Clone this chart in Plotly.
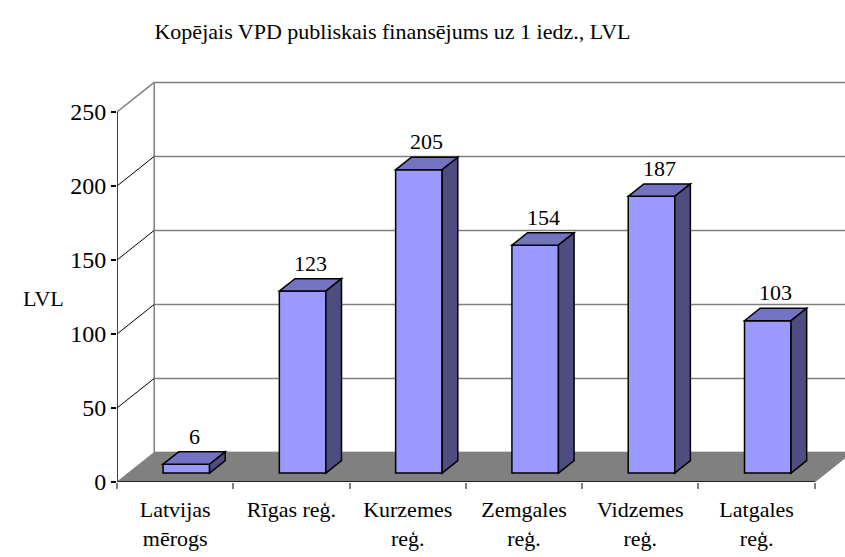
import plotly.graph_objects as go

categories = ["Latvijas<br>mērogs", "Rīgas reģ.", "Kurzemes<br>reģ.", "Zemgales<br>reģ.",
              "Vidzemes<br>reģ.", "Latgales<br>reģ."]
values = [6, 123, 205, 154, 187, 103]
y_ticks = [0, 50, 100, 150, 200, 250]
title_text = "Kopējais VPD publiskais finansējums uz 1 iedz., LVL"
y_title = "LVL"

# oblique-projection styling (axis units)
DX, DY = 0.32, 20.0
BAR_W = 0.40
F0, F1 = 0.30, 0.72
X_MAX = 6.26
Y_MAX = 275
FONT = "Liberation Serif, Times New Roman, serif"
FRONT, TOP, SIDE = "#9999FF", "#7373C4", "#4D4D80"
GRID = "#808080"

n = len(categories)
fig = go.Figure()
shapes = []


def poly(pts, fill, line_color="black", lw=1.5):
    path = "M " + " L ".join(f"{x},{y}" for x, y in pts) + " Z"
    return dict(type="path", path=path, xref="x", yref="y", fillcolor=fill,
                line=dict(color=line_color, width=lw), layer="above")


def seg(x0, y0, x1, y1, color, lw):
    return dict(type="line", x0=x0, y0=y0, x1=x1, y1=y1, xref="x", yref="y",
                line=dict(color=color, width=lw), layer="above")


top_tick = max(y_ticks)
# back wall gridlines
for t in y_ticks:
    shapes.append(seg(DX, t + DY, X_MAX + 1, t + DY, GRID, 1.5))
# back wall left edge
shapes.append(seg(DX, DY, DX, top_tick + DY, GRID, 1.5))
# diagonals on left wall
for t in y_ticks[1:]:
    col, lw = (GRID, 1.5) if t == top_tick else ("black", 1)
    shapes.append(seg(0, t, DX, t + DY, col, lw))
# floor
shapes.append(poly([(0, 0), (DX, DY), (n + DX, DY), (n, 0)], GRID, GRID, 1))
# front axis lines
shapes.append(seg(0, 0, 0, top_tick, "black", 1.5))
shapes.append(seg(0, 0, n, 0, "#202020", 2))

annotations = []
ddx = (F1 - F0) * DX
ddy = (F1 - F0) * DY
for i, v in enumerate(values):
    xf0 = i + 0.5 - BAR_W / 2 + F0 * DX
    xf1 = xf0 + BAR_W
    yb = F0 * DY
    yt = yb + v
    shapes.append(poly([(xf0, yb), (xf1, yb), (xf1, yt), (xf0, yt)], FRONT))
    shapes.append(poly([(xf0, yt), (xf1, yt), (xf1 + ddx, yt + ddy), (xf0 + ddx, yt + ddy)], TOP))
    shapes.append(poly([(xf1, yb), (xf1 + ddx, yb + ddy), (xf1 + ddx, yt + ddy), (xf1, yt)], SIDE))
    annotations.append(dict(x=i + 0.5 + (F0 + F1) / 2 * DX, y=yt + ddy, xref="x", yref="y",
                            text=str(v), showarrow=False, yanchor="bottom", yshift=1,
                            font=dict(family=FONT, size=22, color="black")))

annotations.append(dict(x=-0.1016, y=0.452, xref="paper", yref="paper", text=y_title,
                        showarrow=False, xanchor="center", yanchor="middle",
                        font=dict(family=FONT, size=22, color="black")))

# invisible trace to establish axes
fig.add_trace(go.Scatter(x=[0, X_MAX], y=[0, Y_MAX], mode="markers",
                         marker=dict(opacity=0), hoverinfo="skip", showlegend=False))

fig.update_layout(
    width=845, height=557,
    margin=dict(l=117, r=0, t=75, b=75),
    paper_bgcolor="white", plot_bgcolor="white",
    showlegend=False,
    shapes=shapes,
    annotations=annotations,
    title=dict(text=title_text, x=0.4645, xref="container", xanchor="center",
               y=0.944, yref="container", yanchor="middle",
               font=dict(family=FONT, size=22, color="black")),
    font=dict(family=FONT, color="black"),
)
fig.update_xaxes(range=[0, X_MAX], tickvals=[i + 0.5 for i in range(n)], ticktext=categories,
                 showgrid=False, zeroline=False, showline=False, ticks="",
                 ticklabelstandoff=12,
                 tickfont=dict(family=FONT, size=22, color="black"),
                 minor=dict(tickvals=list(range(n + 1)), ticks="outside", ticklen=6,
                            tickcolor=GRID, tickwidth=1.5, showgrid=False))
fig.update_yaxes(range=[0, Y_MAX], tickvals=y_ticks, showgrid=False, zeroline=False,
                 showline=False, ticks="outside", ticklen=5, tickcolor="black", tickwidth=1.5,
                 tickfont=dict(family=FONT, size=24, color="black"))

fig.write_html("out.html", config={"displayModeBar": False},
               post_script="document.body.style.margin='0';")
